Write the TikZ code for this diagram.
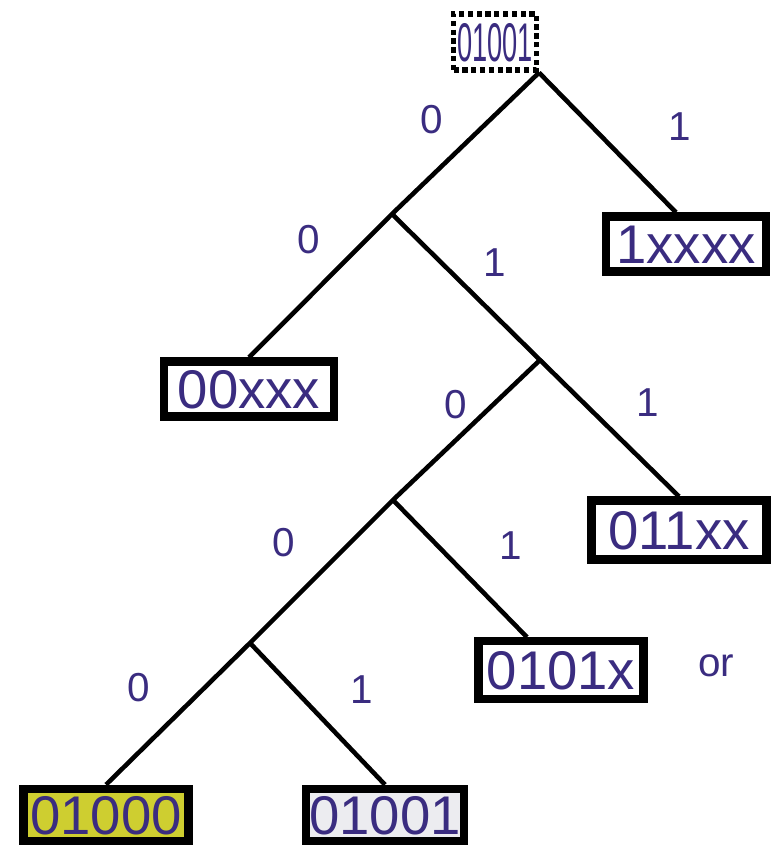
\documentclass[tikz,border=0pt]{standalone}
\usepackage{fontspec}
\setmainfont{Liberation Sans}
\usetikzlibrary{positioning}
\usetikzlibrary{calc}

\definecolor{bitblue}{RGB}{58,44,128}
\definecolor{hityellow}{RGB}{206,206,48}
\definecolor{hitgray}{RGB}{236,236,240}

\begin{document}
\begin{tikzpicture}[
      x = 0.2mm, y = -0.2mm,
      edge/.style = { line width = 2.6pt },
      key/.style = {
        rectangle, draw = black, line width = 4.6pt,
        text = bitblue, font = \fontsize{31}{31}\selectfont,
        inner xsep = 2pt, inner ysep = 3pt,
        text height = 22.5pt, text depth = 0.5pt,
        minimum height = 1.1cm
      },
      probe/.style = { line width = 3pt, dash pattern = on 3pt off 2pt, fill = white },
      found/.style = { fill = hityellow },
      other/.style = { fill = hitgray },
      bit/.style = { text = bitblue, font = \fontsize{23}{23}\selectfont },
    ]
    \useasboundingbox (0,0) rectangle (782,852);

    % searched key and the leaves of the trie
    \node[key, probe, minimum width = 1.62cm, minimum height = 1.12cm] (root) at (495,42) {\scalebox{0.5}[1]{01001}};
    \node[key, minimum width = 3.2cm] (v1xxxx) at (686,244) {1xxxx};
    \node[key, minimum width = 3.4cm] (v00xxx) at (249,389) {00xxx};
    \node[key, minimum width = 3.5cm, minimum height = 1.18cm] (v011xx) at (679,530) {011xx};
    \node[key, minimum width = 3.3cm, minimum height = 1.15cm] (v0101x) at (561,670) {0101x};
    \node[key, found, minimum width = 3.3cm, minimum height = 1.05cm] (v01000) at (106,815) {01000};
    \node[key, other, minimum width = 3.05cm, minimum height = 1.05cm] (v01001) at (385,815) {01001};
    \node[bit] (alt) at (716,666) {or};

    % inner branching points
    \coordinate (j1) at (392,214);
    \coordinate (j2) at (540,360);
    \coordinate (j3) at (393,500);
    \coordinate (j4) at (250,643);

    \draw[edge] (root.south east) -- (j1) -- (v00xxx.north);
    \draw[edge] (root.south east) -- ([xshift=-0.2cm]v1xxxx.north);
    \draw[edge] (j1) -- (j2) -- (j3) -- (j4) -- (v01000.north);
    \draw[edge] (j2) -- (v011xx.north);
    \draw[edge] (j3) -- ([xshift=-0.68cm]v0101x.north);
    \draw[edge] (j4) -- (v01001.north);

    % branch bits
    \foreach \x/\y/\t [count=\i] in {432/120/0, 680/127/1, 309/240/0, 495/263/1, 456/405/0,
                                     648/403/1, 284/543/0, 511/546/1, 139/688/0, 362/690/1} {
      \node[bit] (b\i) at (\x,\y) {\t};
    }
  \end{tikzpicture}
\end{document}
